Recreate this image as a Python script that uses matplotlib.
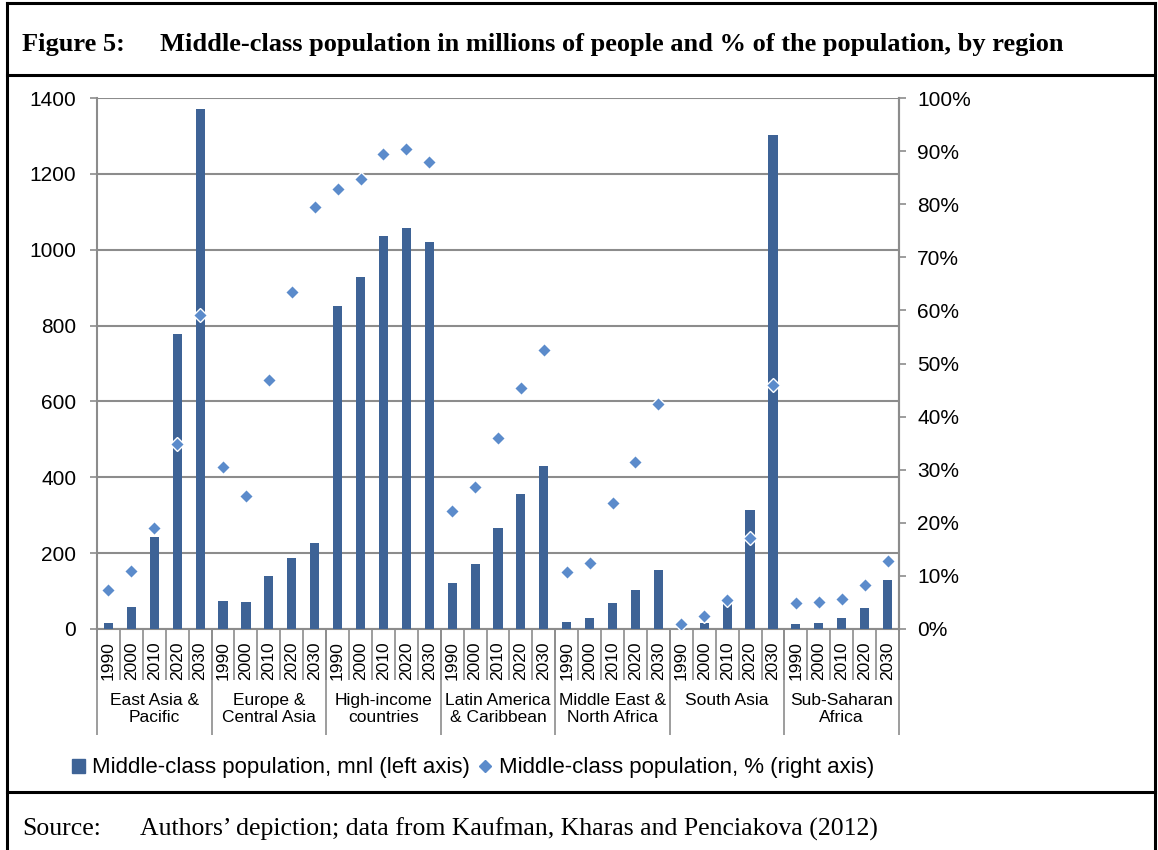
import matplotlib.pyplot as plt
from matplotlib.lines import Line2D
from matplotlib.ticker import PercentFormatter

# data
regions = ['East Asia &\nPacific', 'Europe &\nCentral Asia', 'High-income\ncountries',
           'Latin America\n& Caribbean', 'Middle East &\nNorth Africa', 'South Asia',
           'Sub-Saharan\nAfrica']
years = ['1990', '2000', '2010', '2020', '2030']

population = [16, 59, 243, 779, 1370,
              75, 71, 141, 187, 226,
              852, 927, 1037, 1057, 1021,
              120, 171, 266, 357, 430,
              18, 30, 69, 103, 155,
              4, 16, 66, 315, 1303,
              12, 16, 29, 56, 129]
share = [7.3, 11.0, 19.0, 34.8, 59.2,
         30.6, 25.1, 46.9, 63.4, 79.4,
         82.9, 84.7, 89.5, 90.4, 87.9,
         22.3, 26.8, 35.9, 45.3, 52.6,
         10.8, 12.4, 23.7, 31.4, 42.3,
         0.9, 2.4, 5.4, 17.1, 45.9,
         4.9, 5.0, 5.6, 8.3, 12.8]

bar_col = '#3E6396'
dot_col = '#5B8BCB'
grey = '#8C8C8C'
sans = 'Liberation Sans'
serif = 'Liberation Serif'

W, H = 1158, 850
fig = plt.figure(figsize=(W / 100, H / 100), dpi=100)
ax = fig.add_axes([97 / W, 1 - 629 / H, (899 - 97) / W, (629 - 98) / H])

n = len(population)
x = list(range(n))
ax.bar(x, population, width=0.4, color=bar_col, zorder=3)
ax.set_xlim(-0.5, n - 0.5)
ax.set_ylim(0, 1400)
ax.set_yticks(range(0, 1401, 200))
ax.grid(axis='y', color=grey, lw=1.5, zorder=0)
ax.set_axisbelow(True)
ax.spines['top'].set_visible(False)
for s in ['left', 'right', 'bottom']:
    ax.spines[s].set_color(grey)
    ax.spines[s].set_linewidth(1.5)
ax.tick_params(axis='y', length=5, width=1.2, color=grey, labelsize=15, pad=10)
for lab in ax.get_yticklabels():
    lab.set_family(sans)

# year labels + small separators
ax.set_xticks(x, [years[i % 5] for i in x], rotation=90)
ax.tick_params(axis='x', which='major', length=0, pad=9, labelsize=12.5)
for lab in ax.get_xticklabels():
    lab.set_family(sans)
ax.set_xticks([i + 0.5 for i in range(-1, n)], minor=True)
ax.tick_params(axis='x', which='minor', length=37, width=1.2, color=grey)

# region separators + labels
sec = ax.secondary_xaxis('bottom')
sec.spines['bottom'].set_visible(False)
bounds = [5 * k - 0.5 for k in range(len(regions) + 1)]
sec.set_xticks(bounds, [''] * len(bounds))
sec.tick_params(axis='x', which='major', length=76, width=1.2, color=grey)
centers = [5 * k + 2 for k in range(len(regions))]
sec.set_xticks(centers, regions, minor=True)
sec.tick_params(axis='x', which='minor', length=0, pad=46, labelsize=12.5)
for lab in sec.get_xticklabels(minor=True):
    lab.set_family(sans)
    lab.set_linespacing(1.2)
    lab.set_va('top')

ax2 = ax.twinx()
ax2.plot(x, share, ls='none', marker='D', ms=6.8, color=dot_col, mec='white', mew=1, zorder=4)
ax2.set_ylim(0, 100)
ax2.set_yticks(range(0, 101, 10))
ax2.yaxis.set_major_formatter(PercentFormatter(decimals=0))
ax2.tick_params(axis='y', length=5, width=1.2, color=grey, labelsize=15, pad=8)
for lab in ax2.get_yticklabels():
    lab.set_family(sans)
for s in ['top', 'left', 'bottom']:
    ax2.spines[s].set_visible(False)
ax2.spines['right'].set_color(grey)
ax2.spines['right'].set_linewidth(1.5)

handles = [plt.Rectangle((0, 0), 1, 1, color=bar_col),
           Line2D([], [], ls='none', marker='D', ms=6, color=dot_col)]
fig.legend(handles, ['Middle-class population, mnl (left axis)',
                     'Middle-class population, % (right axis)'],
           loc='center', bbox_to_anchor=(473 / W, 1 - 768 / H), ncol=2, frameon=False,
           prop={'family': sans, 'size': 16}, handlelength=0.6, handleheight=0.6,
           handletextpad=0.3, columnspacing=0.4, borderpad=0)

# frame around the figure
lw = 2.2
fig.add_artist(Line2D([7 / W, 7 / W], [0, 1 - 3 / H], color='black', lw=lw))
fig.add_artist(Line2D([1155 / W, 1155 / W], [0, 1 - 3 / H], color='black', lw=lw))
fig.add_artist(Line2D([7 / W, 1155 / W], [1 - 3 / H, 1 - 3 / H], color='black', lw=lw))
fig.add_artist(Line2D([7 / W, 1155 / W], [1 - 75 / H, 1 - 75 / H], color='black', lw=lw))
fig.add_artist(Line2D([7 / W, 1155 / W], [1 - 792 / H, 1 - 792 / H], color='black', lw=lw))

fig.text(22 / W, 1 - 45 / H, 'Figure 5:', family=serif, weight='bold', size=19, va='center')
fig.text(160 / W, 1 - 45 / H,
         'Middle-class population in millions of people and % of the population, by region',
         family=serif, weight='bold', size=19, va='center')
fig.text(22 / W, 1 - 829 / H, 'Source:', family=serif, size=18.5, va='center')
fig.text(140 / W, 1 - 829 / H,
         'Authors\u2019 depiction; data from Kaufman, Kharas and Penciakova (2012)',
         family=serif, size=18.5, va='center')

fig.savefig('out.png', dpi=100)
